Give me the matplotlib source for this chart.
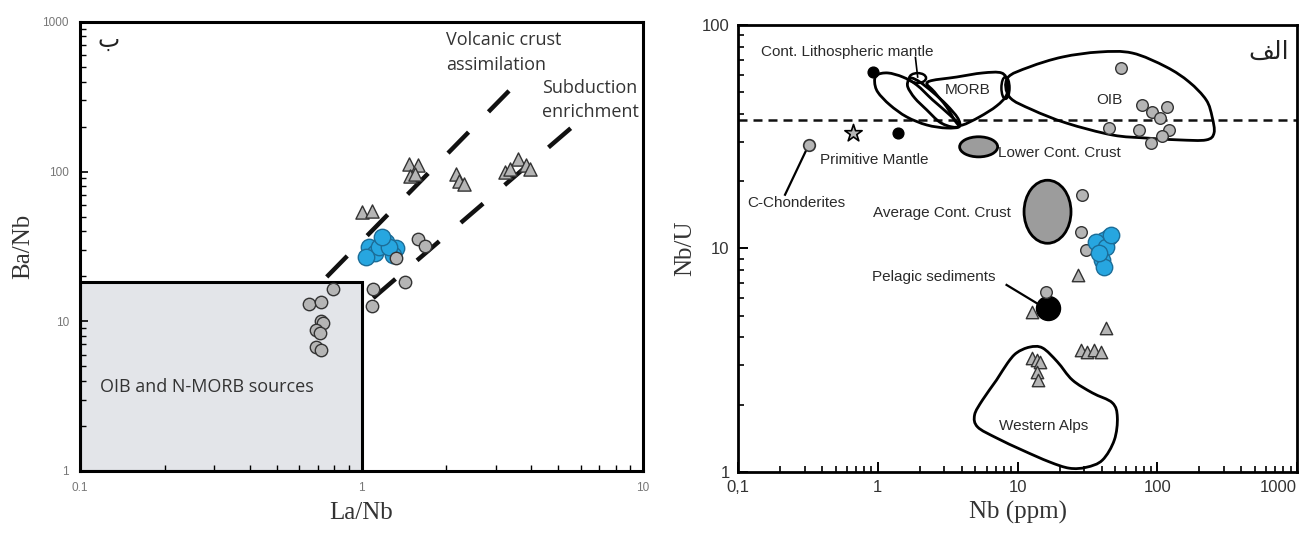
import numpy as np
import matplotlib
matplotlib.use('Agg')
import matplotlib.pyplot as plt
from matplotlib.path import Path
from matplotlib.patches import PathPatch, Ellipse, Rectangle

# ---------------- Left panel data (La/Nb vs Ba/Nb) ----------------
L_circ_la = [0.65, 0.72, 0.72, 0.73, 0.69, 0.71, 0.69, 0.72, 0.79, 1.10, 1.09, 1.43, 1.59, 1.68, 1.32]
L_circ_ba = [13.0, 13.4, 10.0, 9.8, 8.8, 8.3, 6.7, 6.4, 16.4, 16.4, 12.6, 18.3, 35.5, 32.0, 26.5]
L_blue_la = [1.06, 1.12, 1.22, 1.32, 1.29, 1.15, 1.25, 1.04, 1.18]
L_blue_ba = [31.4, 28.6, 33.9, 30.9, 27.8, 31.4, 31.4, 26.9, 36.6]
L_tri_la = [1.00, 1.09, 1.47, 1.59, 1.49, 1.55, 2.17, 2.22, 2.31, 3.59, 3.24, 3.37, 3.83, 3.98]
L_tri_ba = [54, 55, 113, 110, 94, 97, 97, 86, 83, 122, 100, 104, 110, 104]
L_box_la = [0.1, 1.0]
L_box_ba = [1.0, 18.3]
L_volc_la = [0.752, 3.50]
L_volc_ba = [19.8, 379]
L_subd_la = [1.10, 5.98]
L_subd_ba = [14.3, 221]
L_xticks = [0.1, 1, 10]
L_xticklabels = ['0.1', '1', '10']
L_yticks = [1, 10, 100, 1000]
L_yticklabels = ['1', '10', '100', '1000']

# ---------------- Right panel data (Nb vs Nb/U) ----------------
R_circ_nb = [55.3, 78.1, 92.1, 118, 105, 45.4, 74.4, 122, 109, 90.6, 29.1, 28.6, 31.1, 16.1]
R_circ_nbu = [64.2, 43.9, 40.8, 43.0, 38.4, 34.6, 33.9, 33.9, 31.9, 29.6, 17.4, 11.9, 9.85, 6.39]
R_blue_nb = [45.4, 41.8, 36.6, 43.2, 40.5, 41.8, 38.5, 46.5]
R_blue_nbu = [11.3, 10.9, 10.7, 10.2, 8.89, 8.27, 9.55, 11.5]
R_tri_nb = [27.3, 12.8, 43.2, 28.6, 31.6, 35.5, 39.8, 12.6, 13.7, 14.4, 13.9, 14.1]
R_tri_nbu = [7.61, 5.20, 4.41, 3.51, 3.44, 3.51, 3.44, 3.24, 3.17, 3.11, 2.80, 2.58]
R_dash_nbu = 37.6
# reference reservoirs
R_clm_dot = (0.92, 61.7)
R_black_dot = (1.39, 32.9)
R_prim_mantle = (0.66, 32.9)
R_chondrite = (0.32, 29.0)
R_pelagic = (16.4, 5.42)
# field outlines
OIB_nb = [8.48, 12.2, 21.0, 38.5, 66.3, 116, 169, 224, 247, 255, 224, 144, 83.4, 47.7, 22.4, 12.8, 8.77]
OIB_nbu = [57.9, 64.9, 71.9, 75.7, 74.9, 64.9, 55.6, 46.2, 38.8, 32.9, 30.6, 30.6, 31.2, 32.2, 36.4, 41.7, 47.6]
MORB_nb = [2.28, 3.67, 5.62, 7.69, 8.48, 8.35, 7.08, 5.35, 4.05, 3.67, 3.11, 2.55]
MORB_nbu = [55.6, 58.5, 61.0, 61.0, 55.6, 48.6, 43.4, 38.8, 35.7, 36.4, 43.0, 50.1]
CLM1_nb = [0.984, 1.18, 1.51, 1.90, 2.47, 3.27, 3.85, 3.11, 2.24, 1.61, 1.22, 1.0, 0.95]
CLM1_nbu = [59.7, 61.0, 58.5, 53.9, 46.2, 39.6, 35.3, 34.6, 35.7, 38.8, 43.9, 50.1, 55.6]
CLM2_nb = [1.75, 2.0, 2.47, 3.11, 3.73, 3.85, 3.38, 2.77, 2.24, 1.84, 1.64, 1.66]
CLM2_nbu = [57.9, 55.6, 50.1, 43.9, 38.4, 35.3, 35.0, 36.8, 41.7, 47.1, 52.8, 56.8]
WA_nb = [9.84, 12.2, 15.1, 19.3, 24.7, 34.3, 47.7, 51.8, 49.3, 40.5, 31.1, 23.5, 16.9, 10.9, 7.08, 5.18, 4.93, 5.62, 7.08, 8.48]
WA_nbu = [3.41, 3.62, 3.59, 3.11, 2.58, 2.26, 2.04, 1.76, 1.39, 1.13, 1.05, 1.04, 1.11, 1.25, 1.42, 1.59, 1.80, 2.10, 2.58, 3.07]
# ellipses: centre (Nb, Nb/U), half-axes in log decades
LENS_c, LENS_r = (1.93, 57.9), (0.06, 0.022)
LINK_c, LINK_r = (8.2, 52.3), (0.029, 0.049)
LCC_c, LCC_r = (5.27, 28.5), (0.136, 0.045)
ACC_c, ACC_r = (16.4, 14.6), (0.168, 0.141)
R_xticks = [0.1, 1, 10, 100, 1000]
R_xticklabels = ['0,1', '1', '10', '100', '1000']
R_yticks = [1, 10, 100]
R_yticklabels = ['1', '10', '100']

NARROW = ['Liberation Sans', 'DejaVu Sans']
SANS = ['Open Sans', 'DejaVu Sans']
SERIF = ['Liberation Serif', 'DejaVu Serif']
GRAY = '#b5b5b5'
EDGE = '#333333'
BLUE = '#27a6e0'
BLUE_E = '#1c6d98'


def smooth_path(xs, ys):
    P = np.column_stack([np.log10(xs), np.log10(ys)])
    n = len(P)
    verts = [P[0]]
    codes = [Path.MOVETO]
    for i in range(n):
        p0, p1, p2, p3 = P[(i - 1) % n], P[i], P[(i + 1) % n], P[(i + 2) % n]
        verts += [p1 + (p2 - p0) / 6.0, p2 - (p3 - p1) / 6.0, p2]
        codes += [Path.CURVE4] * 3
    verts.append(P[0])
    codes.append(Path.CLOSEPOLY)
    return Path(10 ** np.array(verts), codes)


fig = plt.figure(figsize=(13.06, 5.36), dpi=100)
axL = fig.add_axes([0.0613, 0.1213, 0.4311, 0.8377])
axR = fig.add_axes([0.5651, 0.1194, 0.4280, 0.8340])

# ================= LEFT =================
axL.set_xscale('log')
axL.set_yscale('log')
axL.set_xlim(0.1, 10)
axL.set_ylim(1, 1000)
axL.add_patch(Rectangle((L_box_la[0], L_box_ba[0]), L_box_la[1] - L_box_la[0], L_box_ba[1] - L_box_ba[0],
                        facecolor='#e3e5e9', edgecolor='black', lw=2.2, zorder=1))
for xs, ys in [(L_volc_la, L_volc_ba), (L_subd_la, L_subd_ba)]:
    axL.plot(xs, ys, color='#111111', lw=3.2, linestyle=(0, (6.6, 6.4)), solid_capstyle='butt',
             dash_capstyle='butt', zorder=2)
axL.scatter(L_tri_la, L_tri_ba, s=90, marker='^', facecolor=GRAY, edgecolor=EDGE, lw=1.0, zorder=3)
axL.scatter(L_blue_la, L_blue_ba, s=140, marker='o', facecolor=BLUE, edgecolor=BLUE_E, lw=1.0, zorder=3)
axL.scatter(L_circ_la, L_circ_ba, s=80, marker='o', facecolor=GRAY, edgecolor=EDGE, lw=1.0, zorder=4)

lt = dict(fontsize=13, family=SANS, color='#333333', va='center', ha='left')
axL.text(2.0, 757, 'Volcanic crust', **lt)
axL.text(2.0, 515, 'assimilation', **lt)
axL.text(4.37, 362, 'Subduction', clip_on=True, **lt)
axL.text(4.37, 250, 'enrichment', clip_on=True, **lt)
axL.text(0.118, 3.64, 'OIB and N-MORB sources', **lt)
axL.text(0.115, 757, '\u0628', fontsize=17, family=['DejaVu Sans'], color='#222222', va='center', ha='left')

axL.set_xticks(L_xticks)
axL.set_xticklabels(L_xticklabels)
axL.set_yticks(L_yticks)
axL.set_yticklabels(L_yticklabels)
axL.tick_params(which='both', direction='in', top=False, right=False)
axL.tick_params(which='major', length=6, width=1.2, labelsize=8.5, labelcolor='#777777', pad=8)
axL.tick_params(which='minor', length=4, width=1.0)
for lab in axL.get_xticklabels() + axL.get_yticklabels():
    lab.set_family(NARROW)
for sp in axL.spines.values():
    sp.set_linewidth(2.2)
axL.set_xlabel('La/Nb', fontsize=18, family=SERIF, color='#333333', labelpad=6)
axL.set_ylabel('Ba/Nb', fontsize=18, family=SERIF, color='#333333', labelpad=6)

# ================= RIGHT =================
axR.set_xscale('log')
axR.set_yscale('log')
axR.set_xlim(0.1, 1000)
axR.set_ylim(1, 100)
logT = axR.transLimits + axR.transAxes

axR.axhline(R_dash_nbu, color='#111111', lw=1.8, linestyle=(0, (3.6, 2.4)), zorder=2)
for xs, ys in [(OIB_nb, OIB_nbu), (MORB_nb, MORB_nbu), (CLM1_nb, CLM1_nbu), (CLM2_nb, CLM2_nbu), (WA_nb, WA_nbu)]:
    axR.add_patch(PathPatch(smooth_path(xs, ys), facecolor='none', edgecolor='black', lw=2.0, zorder=2))
for c, r in [(LENS_c, LENS_r), (LINK_c, LINK_r)]:
    axR.add_patch(Ellipse((np.log10(c[0]), np.log10(c[1])), 2 * r[0], 2 * r[1], transform=logT,
                          facecolor='none', edgecolor='black', lw=1.8, zorder=2))
for c, r in [(LCC_c, LCC_r), (ACC_c, ACC_r)]:
    axR.add_patch(Ellipse((np.log10(c[0]), np.log10(c[1])), 2 * r[0], 2 * r[1], transform=logT,
                          facecolor='#9c9c9c', edgecolor='black', lw=2.0, zorder=2))

# pointer lines
axR.plot([R_chondrite[0], 0.217], [R_chondrite[1], 17.4], color='black', lw=1.6, zorder=2)
axR.plot([8.35, 14.4], [6.87, 5.59], color='black', lw=1.6, zorder=2)
axR.plot([1.86, 1.93], [71.5, 58.5], color='black', lw=1.2, zorder=2)

axR.scatter(R_tri_nb, R_tri_nbu, s=80, marker='^', facecolor=GRAY, edgecolor=EDGE, lw=1.0, zorder=3)
axR.scatter([R_pelagic[0]], [R_pelagic[1]], s=300, marker='o', facecolor='black', edgecolor='black', zorder=3)
axR.scatter(R_circ_nb, R_circ_nbu, s=70, marker='o', facecolor=GRAY, edgecolor=EDGE, lw=1.0, zorder=4)
axR.scatter(R_blue_nb, R_blue_nbu, s=140, marker='o', facecolor=BLUE, edgecolor=BLUE_E, lw=1.0, zorder=4)
axR.scatter([R_clm_dot[0], R_black_dot[0]], [R_clm_dot[1], R_black_dot[1]], s=60, marker='o',
            facecolor='black', edgecolor='black', zorder=4)
axR.scatter([R_prim_mantle[0]], [R_prim_mantle[1]], s=170, marker='*', facecolor=GRAY, edgecolor='black',
            lw=1.2, zorder=4)
axR.scatter([R_chondrite[0]], [R_chondrite[1]], s=70, marker='o', facecolor=GRAY, edgecolor=EDGE, lw=1.2, zorder=4)

tk = dict(fontsize=11, family=NARROW, color='#2a2a2a', va='center')
axR.text(0.146, 75.7, 'Cont. Lithospheric mantle', ha='left', **tk)
axR.text(3.01, 51.2, 'MORB', ha='left', **tk)
axR.text(45.4, 46.2, 'OIB', ha='center', **tk)
axR.text(0.385, 24.9, 'Primitive Mantle', ha='left', **tk)
axR.text(7.31, 26.8, 'Lower Cont. Crust', ha='left', **tk)
axR.text(0.116, 16.0, 'C-Chonderites', ha='left', **tk)
axR.text(0.92, 14.4, 'Average Cont. Crust', ha='left', **tk)
axR.text(0.91, 7.46, 'Pelagic sediments', ha='left', **tk)
axR.text(15.3, 1.61, 'Western Alps', ha='center', **tk)
axR.text(0.985, 0.94, '\uFED2\uFEDF\uFE8D', transform=axR.transAxes, fontsize=18, family=['DejaVu Sans'],
         color='#222222', ha='right', va='center')

axR.set_xticks(R_xticks)
axR.set_xticklabels(R_xticklabels)
axR.set_yticks(R_yticks)
axR.set_yticklabels(R_yticklabels)
axR.tick_params(which='both', direction='in', top=False, right=False)
axR.tick_params(which='major', length=7, width=1.4, labelsize=12, labelcolor='#333333', pad=6)
axR.tick_params(which='minor', length=4, width=1.2)
for lab in axR.get_xticklabels() + axR.get_yticklabels():
    lab.set_family(NARROW)
xl = axR.get_xticklabels()
xl[-1].set_horizontalalignment('right')
for sp in axR.spines.values():
    sp.set_linewidth(2.0)
axR.set_xlabel('Nb (ppm)', fontsize=18, family=SERIF, color='#333333', labelpad=4)
axR.set_ylabel('Nb/U', fontsize=18, family=SERIF, color='#333333', labelpad=4)

fig.savefig('out.png', dpi=100)
